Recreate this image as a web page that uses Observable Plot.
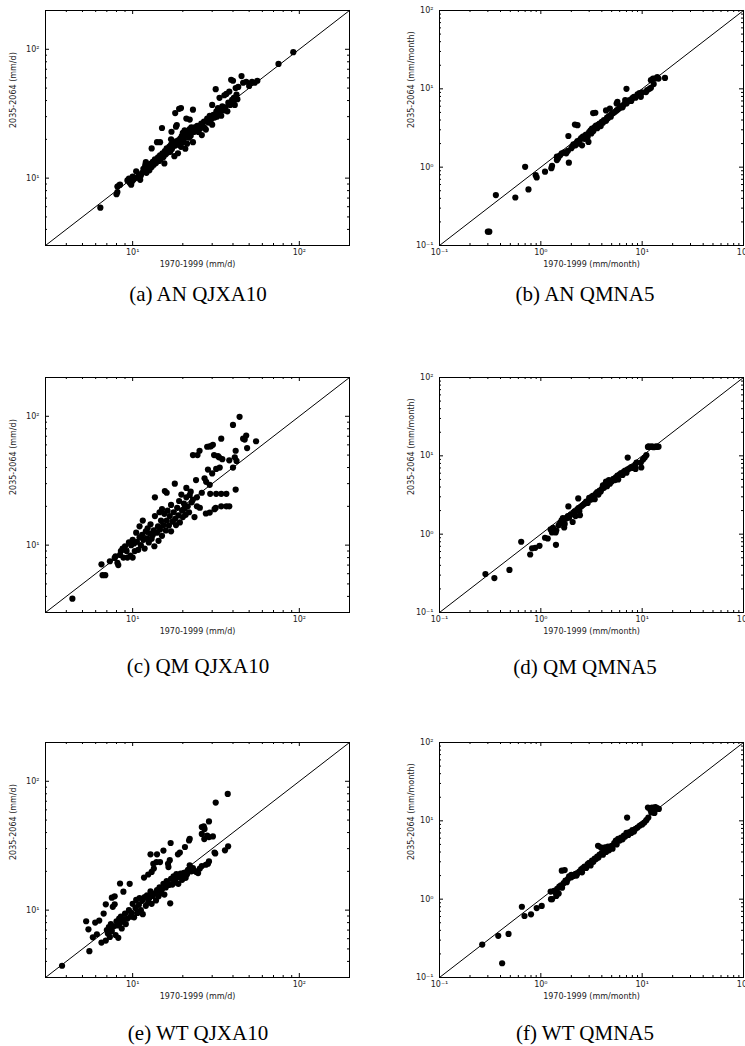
<!DOCTYPE html>
<html><head><meta charset="utf-8">
<script src="https://cdn.jsdelivr.net/npm/d3@7"></script>
<script src="https://cdn.jsdelivr.net/npm/@observablehq/plot@0.6"></script>
<style>
html,body{margin:0;padding:0;background:#fff;}
body{width:745px;height:1046px;position:relative;overflow:hidden;}
.panel{position:absolute;}
.cap{position:absolute;font-family:"Liberation Serif","Times New Roman",serif;font-size:21px;line-height:1;color:#000;text-align:center;width:300px;white-space:nowrap;}
</style></head><body>
<script>
// ---- tick values / labels ----
const dailyDomain = [3, 200];
const dailyMajor = [10, 100];
const dailyMinor = [4, 5, 6, 7, 8, 9, 20, 30, 40, 50, 60, 70, 80, 90];
const monthlyDomain = [0.1, 100];
const monthlyMajor = [0.1, 1, 10, 100];
const monthlyMinor = [0.2, 0.3, 0.4, 0.5, 0.6, 0.7, 0.8, 0.9, 2, 3, 4, 5, 6, 7, 8, 9, 20, 30, 40, 50, 60, 70, 80, 90];
const dailyXLabel = "1970-1999 (mm/d)";
const dailyYLabel = "2035-2064 (mm/d)";
const monthlyXLabel = "1970-1999 (mm/month)";
const monthlyYLabel = "2035-2064 (mm/month)";
const captions = ["(a) AN QJXA10", "(b) AN QMNA5", "(c) QM QJXA10", "(d) QM QMNA5", "(e) WT QJXA10", "(f) WT QMNA5"];

// ---- data: [1970-1999, 2035-2064] ----
const anQJXA10 = [[6.4,5.9],[8.0,7.5],[8.1,7.8],[8.1,8.6],[8.3,8.8],[8.4,8.9],[9.3,9.6],[9.5,9.9],[9.6,9.2],[9.8,8.9],[9.9,9.4],[10.0,10.3],[10.1,9.7],[10.3,10.0],[10.5,11.3],[10.7,10.1],[10.9,10.6],[11.1,9.7],[11.2,10.5],[11.4,11.0],[11.6,11.8],[11.8,11.3],[11.9,12.6],[12.0,13.3],[12.1,11.0],[12.3,11.9],[12.4,12.3],[12.6,11.5],[12.8,12.9],[13.0,12.2],[13.0,17.0],[13.2,13.4],[13.4,12.7],[13.6,14.0],[13.8,13.1],[14.0,19.0],[14.2,14.5],[14.4,13.6],[14.6,19.0],[14.6,15.0],[14.8,14.2],[15.0,24.5],[15.1,15.6],[15.3,14.6],[15.5,13.0],[15.6,16.2],[15.8,15.3],[16.0,17.0],[16.2,15.8],[16.4,16.5],[16.6,17.6],[16.8,16.0],[17.0,20.0],[17.0,18.2],[17.1,22.9],[17.2,16.8],[17.4,17.5],[17.6,18.8],[17.8,14.8],[18.0,32.0],[18.0,17.9],[18.2,19.3],[18.2,25.1],[18.4,25.8],[18.5,18.2],[18.7,15.6],[18.8,19.6],[19.0,34.5],[19.0,18.5],[19.3,20.3],[19.5,35.0],[19.5,17.5],[19.7,21.2],[20.0,22.5],[20.0,19.0],[20.3,20.0],[20.5,23.5],[20.7,16.9],[21.0,21.5],[21.0,29.0],[21.2,18.5],[21.5,22.3],[21.8,20.6],[22.0,28.5],[22.0,24.0],[22.3,21.3],[22.5,24.8],[22.6,23.2],[23.0,34.0],[23.0,19.0],[23.3,22.8],[23.6,24.8],[24.0,23.6],[24.4,25.5],[24.8,22.8],[25.0,25.0],[25.4,24.2],[25.8,26.5],[26.0,21.6],[26.3,25.6],[26.8,27.5],[27.0,24.6],[27.5,23.8],[28.0,29.0],[28.5,27.0],[29.0,30.5],[29.5,28.4],[30.0,37.0],[30.0,26.0],[30.5,31.0],[31.0,29.5],[31.5,49.0],[31.8,33.0],[32.0,30.0],[32.5,35.0],[33.0,32.0],[33.2,42.0],[33.5,34.5],[34.0,30.5],[34.5,36.0],[35.0,33.5],[35.5,44.0],[36.0,35.5],[36.5,45.0],[37.0,33.0],[37.5,38.5],[38.0,47.0],[38.5,37.0],[39.0,58.0],[39.5,40.5],[40.0,57.0],[40.0,39.0],[40.5,42.0],[41.0,37.0],[41.5,50.0],[42.0,44.5],[42.5,41.0],[43.0,51.0],[45.0,62.0],[46.0,55.0],[48.0,56.0],[50.0,52.0],[52.0,56.0],[54.0,55.0],[56.0,57.0],[75.0,77.0],[92.0,95.0]];

const anQMNA5 = [[0.30,0.15],[0.31,0.15],[0.36,0.44],[0.56,0.41],[0.70,1.01],[0.755,0.52],[0.89,0.79],[0.91,0.74],[1.10,0.875],[1.27,0.97],[1.29,1.04],[1.44,1.23],[1.44,1.36],[1.48,1.30],[1.55,1.42],[1.61,1.50],[1.70,1.55],[1.78,1.50],[1.85,1.62],[1.87,2.5],[1.89,1.14],[2.0,1.75],[2.05,1.85],[2.1,1.95],[2.17,3.5],[2.2,1.90],[2.25,2.05],[2.3,3.44],[2.3,2.15],[2.4,2.0],[2.45,2.25],[2.5,2.35],[2.55,1.9],[2.6,2.45],[2.7,2.3],[2.75,2.55],[2.8,2.6],[2.9,2.45],[2.95,2.1],[3.0,2.8],[3.1,2.95],[3.15,2.7],[3.2,3.1],[3.28,4.9],[3.3,2.9],[3.4,3.25],[3.45,4.95],[3.5,3.4],[3.6,3.15],[3.7,3.5],[3.8,3.6],[3.9,3.35],[4.0,3.8],[4.1,3.7],[4.2,4.0],[4.4,5.3],[4.4,3.9],[4.5,4.3],[4.6,4.2],[4.7,4.5],[4.8,5.6],[4.9,4.4],[5.0,4.8],[5.2,4.9],[5.4,5.1],[5.6,6.5],[5.6,5.3],[5.7,6.8],[5.8,5.5],[6.0,5.7],[6.2,6.0],[6.4,5.8],[6.6,6.3],[6.8,6.6],[6.8,7.2],[7.0,10.0],[7.0,6.5],[7.2,6.9],[7.5,7.2],[7.8,7.0],[8.0,7.6],[8.3,7.9],[8.6,7.7],[9.0,8.5],[9.4,8.8],[9.7,7.9],[10.0,9.0],[10.9,9.1],[11.2,9.6],[11.8,10.0],[12.2,10.3],[12.2,12.9],[12.8,13.5],[13.4,13.5],[13.0,11.5],[14.1,14.1],[14.5,13.5],[16.8,13.8]];

const qmQJXA10 = [[4.35,3.84],[6.5,7.1],[6.6,5.85],[6.85,5.85],[7.3,7.5],[7.8,7.95],[7.9,8.2],[8.1,7.3],[8.2,7.0],[8.4,8.4],[8.5,9.0],[8.7,9.4],[8.8,8.0],[9.0,9.8],[9.2,9.0],[9.3,8.0],[9.5,10.5],[9.7,8.3],[9.8,10.0],[10.0,8.0],[10.0,11.0],[10.2,10.3],[10.3,9.0],[10.5,12.5],[10.6,10.6],[10.8,9.2],[11.0,11.5],[11.0,14.0],[11.2,10.0],[11.4,12.0],[11.5,15.5],[11.6,11.0],[11.8,9.4],[12.0,12.8],[12.2,11.3],[12.3,13.5],[12.5,10.5],[12.7,12.3],[12.8,14.5],[13.0,11.2],[13.2,12.0],[13.4,13.0],[13.5,9.8],[13.6,16.8],[13.6,23.5],[14.0,12.5],[14.2,14.0],[14.3,10.8],[14.5,18.0],[14.6,13.2],[14.8,15.5],[15.0,11.8],[15.0,19.0],[15.3,14.3],[15.5,17.5],[15.6,26.3],[15.8,13.0],[16.0,25.5],[16.0,15.5],[16.2,18.5],[16.5,14.2],[16.7,16.8],[17.0,12.8],[17.0,20.5],[17.3,15.2],[17.6,18.0],[17.9,30.0],[18.0,16.0],[18.2,14.3],[18.5,19.5],[18.8,17.0],[19.0,22.0],[19.2,15.0],[19.6,24.7],[19.8,18.5],[20.0,16.5],[20.3,21.0],[20.5,19.2],[20.8,17.2],[21.0,27.8],[21.0,23.5],[21.4,20.0],[21.8,18.0],[22.0,24.5],[22.3,26.0],[22.6,21.5],[23.0,22.6],[23.0,50.0],[23.5,16.5],[24.0,32.0],[24.3,20.0],[24.3,23.5],[24.5,50.0],[25.2,54.0],[25.3,19.5],[26.0,25.5],[27.0,33.0],[27.5,17.6],[27.6,31.0],[28.0,58.0],[28.3,38.6],[29.0,58.5],[29.0,17.9],[29.0,29.4],[29.2,25.0],[29.5,58.5],[30.0,36.0],[30.3,60.0],[30.8,50.0],[31.0,19.0],[31.5,19.5],[31.7,39.0],[31.7,25.0],[32.5,49.0],[33.0,48.0],[33.3,40.0],[34.0,67.0],[34.0,20.0],[34.0,25.0],[34.5,46.5],[36.5,20.0],[36.5,25.0],[38.0,20.0],[38.0,45.5],[40.0,40.0],[40.0,85.7],[41.0,48.0],[41.5,54.0],[41.5,27.0],[42.0,45.0],[43.8,99.0],[46.0,67.0],[47.0,66.0],[48.0,70.8],[48.6,56.7],[55.0,64.0]];

const qmQMNA5 = [[0.284,0.31],[0.348,0.275],[0.49,0.35],[0.64,0.80],[0.785,0.55],[0.82,0.66],[0.88,0.67],[0.97,0.71],[1.10,0.90],[1.17,0.88],[1.25,1.15],[1.29,1.05],[1.30,1.11],[1.32,1.20],[1.36,1.08],[1.40,1.05],[1.41,0.73],[1.42,1.12],[1.50,1.30],[1.55,1.38],[1.60,1.50],[1.65,1.60],[1.70,1.22],[1.72,1.35],[1.78,1.58],[1.85,1.70],[1.87,2.26],[1.90,1.62],[1.98,1.78],[2.06,1.43],[2.1,1.85],[2.15,1.95],[2.2,1.70],[2.3,2.05],[2.34,2.86],[2.35,2.15],[2.4,1.98],[2.43,1.75],[2.5,2.25],[2.6,2.35],[2.7,2.45],[2.8,2.6],[2.9,2.5],[3.0,2.9],[3.1,2.75],[3.2,3.05],[3.3,3.1],[3.4,2.8],[3.5,3.3],[3.6,3.45],[3.7,3.2],[3.8,3.6],[3.9,3.5],[4.0,3.8],[4.1,4.2],[4.2,3.9],[4.3,4.3],[4.4,4.7],[4.5,4.1],[4.6,4.5],[4.7,4.9],[4.8,4.4],[5.0,4.7],[5.2,5.1],[5.4,4.9],[5.5,5.3],[5.7,5.6],[5.8,5.0],[6.0,5.8],[6.2,6.0],[6.4,5.7],[6.6,6.3],[6.8,6.5],[7.0,6.1],[7.2,6.7],[7.2,9.5],[7.5,6.9],[7.8,7.2],[8.2,7.0],[8.5,7.5],[8.6,6.8],[8.8,8.2],[9.7,8.2],[9.8,7.1],[10.2,9.0],[10.6,9.5],[11.0,10.2],[11.4,13.0],[11.6,13.2],[12.0,13.0],[12.5,13.2],[13.0,12.9],[13.7,13.2],[14.0,13.0],[14.5,13.1]];

const wtQJXA10 = [[3.77,3.7],[5.26,8.2],[5.43,7.1],[5.5,4.8],[5.77,6.15],[5.96,8.0],[6.1,6.5],[6.3,8.3],[6.5,5.6],[6.7,9.4],[6.9,5.8],[6.9,11.1],[7.0,7.0],[7.1,6.6],[7.2,7.4],[7.3,6.2],[7.4,7.8],[7.5,12.5],[7.5,6.9],[7.6,10.6],[7.7,7.5],[7.8,12.8],[7.8,11.1],[7.9,6.4],[8.0,8.2],[8.1,7.6],[8.2,6.1],[8.3,8.6],[8.4,16.1],[8.4,7.9],[8.5,8.9],[8.6,7.2],[8.8,13.9],[8.8,8.4],[9.0,9.4],[9.1,7.8],[9.3,8.6],[9.5,10.0],[9.6,16.0],[9.7,8.9],[9.9,9.5],[10.0,11.2],[10.2,8.8],[10.4,10.4],[10.5,12.0],[10.7,9.5],[10.9,11.0],[11.0,12.4],[11.2,10.0],[11.4,11.8],[11.5,9.3],[11.7,17.9],[11.8,12.6],[12.0,10.8],[12.2,13.0],[12.4,18.9],[12.4,11.5],[12.6,12.4],[12.8,27.1],[12.8,14.0],[13.0,19.8],[13.0,11.2],[13.2,12.9],[13.3,22.9],[13.4,21.0],[13.6,13.5],[13.8,11.9],[13.9,23.6],[14.0,27.1],[14.0,14.3],[14.3,12.8],[14.5,15.0],[14.6,23.6],[14.8,13.6],[15.0,14.5],[15.3,29.0],[15.3,16.0],[15.5,13.2],[15.8,15.0],[16.0,16.8],[16.3,22.9],[16.4,21.6],[16.5,15.7],[16.7,24.4],[16.8,11.3],[16.9,33.2],[17.0,17.5],[17.3,15.8],[17.6,18.3],[17.8,16.4],[18.0,17.0],[18.3,19.0],[18.7,27.1],[18.8,16.0],[19.0,18.0],[19.2,28.0],[19.4,19.2],[19.8,17.2],[20.0,18.5],[20.3,19.5],[20.6,30.9],[20.8,17.8],[21.2,19.0],[21.5,20.5],[21.8,34.7],[22.0,35.8],[22.0,22.3],[22.5,20.0],[23.0,21.2],[23.5,20.2],[24.1,19.8],[24.7,19.4],[25.3,21.0],[26.0,44.1],[26.0,39.0],[26.0,22.0],[26.7,44.7],[26.9,35.6],[27.0,42.7],[27.5,22.5],[28.0,37.8],[28.3,22.9],[28.7,48.8],[28.7,36.9],[28.7,23.9],[30.3,37.3],[31.0,28.0],[31.3,27.5],[31.5,68.4],[35.8,29.1],[37.2,79.8],[37.4,31.3]];

const wtQMNA5 = [[0.264,0.263],[0.38,0.34],[0.415,0.152],[0.48,0.36],[0.65,0.80],[0.69,0.61],[0.80,0.64],[0.91,0.77],[1.02,0.82],[1.26,1.0],[1.25,1.25],[1.29,1.00],[1.35,1.28],[1.38,1.23],[1.42,1.10],[1.45,1.35],[1.50,1.18],[1.52,1.45],[1.58,1.50],[1.61,2.31],[1.62,1.40],[1.68,1.60],[1.72,2.35],[1.75,1.72],[1.8,1.65],[1.85,1.80],[1.9,1.95],[2.0,1.90],[2.0,2.05],[2.1,1.98],[2.2,2.10],[2.25,2.00],[2.3,2.15],[2.4,2.25],[2.5,2.40],[2.55,2.20],[2.6,2.5],[2.7,2.6],[2.8,2.5],[2.9,2.8],[3.0,2.9],[3.1,2.7],[3.2,3.1],[3.3,3.0],[3.4,3.3],[3.5,3.25],[3.6,3.5],[3.67,4.8],[3.7,3.4],[3.8,3.7],[3.9,4.6],[4.0,3.9],[4.1,3.7],[4.2,4.1],[4.3,4.6],[4.4,4.0],[4.5,4.3],[4.6,4.7],[4.7,4.2],[4.8,4.6],[5.0,4.8],[5.1,4.4],[5.3,5.2],[5.5,5.6],[5.6,5.0],[5.8,5.9],[6.0,5.6],[6.2,6.1],[6.4,5.8],[6.6,6.5],[6.8,6.3],[7.0,7.0],[7.1,11.0],[7.3,6.6],[7.5,7.2],[7.8,7.0],[8.0,7.6],[8.3,7.3],[8.6,7.9],[9.0,8.2],[9.5,8.7],[10.0,9.0],[10.5,9.5],[11.0,10.2],[11.4,14.8],[11.5,11.0],[12.0,14.0],[12.3,12.8],[12.5,14.8],[13.0,14.6],[13.2,12.6],[13.5,15.0],[13.7,14.6],[14.0,14.5],[14.6,14.2]];

const daily = {domain: dailyDomain, major: dailyMajor, minor: dailyMinor, xLabel: dailyXLabel, yLabel: dailyYLabel};
const monthly = {domain: monthlyDomain, major: monthlyMajor, minor: monthlyMinor, xLabel: monthlyXLabel, yLabel: monthlyYLabel};

const panels = [
  {data: anQJXA10, cfg: daily,   col: 0, frameTop: 10,  cap: captions[0], capY: 294},
  {data: anQMNA5,  cfg: monthly, col: 1, frameTop: 10,  cap: captions[1], capY: 294},
  {data: qmQJXA10, cfg: daily,   col: 0, frameTop: 377, cap: captions[2], capY: 666},
  {data: qmQMNA5,  cfg: monthly, col: 1, frameTop: 377, cap: captions[3], capY: 667},
  {data: wtQJXA10, cfg: daily,   col: 0, frameTop: 742, cap: captions[4], capY: 1033},
  {data: wtQMNA5,  cfg: monthly, col: 1, frameTop: 742, cap: captions[5], capY: 1033}
];

const supMap = {"-1": "\u207B\u00B9", "0": "\u2070", "1": "\u00B9", "2": "\u00B2"};
const fmt = d => "10" + supMap[String(Math.round(Math.log10(d)))];

for (const p of panels) {
  const cfg = p.cfg;
  const W = p.col === 0 ? 372 : 373;
  const left = p.col === 0 ? 0 : 372;
  const ml = p.col === 0 ? 45 : 67;
  const mr = p.col === 0 ? 23 : 2;
  const mt = 10, mb = 35, PH = 235;
  const PW = W - ml - mr;
  const pts = p.data.map(([x, y]) => ({x, y}));
  const id = d => d;
  const chart = Plot.plot({
    width: W, height: mt + PH + mb,
    marginTop: mt, marginBottom: mb, marginLeft: ml, marginRight: mr,
    x: {type: "log", domain: cfg.domain},
    y: {type: "log", domain: cfg.domain},
    style: {fontFamily: "'DejaVu Sans', sans-serif", fontSize: "8px", background: "transparent", overflow: "visible", color: "#000"},
    marks: [
      Plot.line(cfg.domain, {x: id, y: id, stroke: "#000", strokeWidth: 1}),
      Plot.dot(pts, {x: "x", y: "y", r: 3.1, fill: "#000"}),
      Plot.tickX(cfg.major, {x: id, insetTop: PH - 4, stroke: "#000"}),
      Plot.tickX(cfg.major, {x: id, insetBottom: PH - 4, stroke: "#000"}),
      Plot.tickX(cfg.minor, {x: id, insetTop: PH - 2, stroke: "#000"}),
      Plot.tickX(cfg.minor, {x: id, insetBottom: PH - 2, stroke: "#000"}),
      Plot.tickY(cfg.major, {y: id, insetRight: PW - 4, stroke: "#000"}),
      Plot.tickY(cfg.major, {y: id, insetLeft: PW - 4, stroke: "#000"}),
      Plot.tickY(cfg.minor, {y: id, insetRight: PW - 2, stroke: "#000"}),
      Plot.tickY(cfg.minor, {y: id, insetLeft: PW - 2, stroke: "#000"}),
      Plot.frame({stroke: "#000", strokeWidth: 1}),
      Plot.axisX({ticks: cfg.major, tickSize: 0, tickPadding: 4, tickFormat: fmt, fontSize: 8, label: null, fill: "#222"}),
      Plot.axisY({ticks: cfg.major, tickSize: 0, tickPadding: 6, tickFormat: fmt, fontSize: 8, label: null, fill: "#222"}),
      Plot.text([cfg.xLabel], {frameAnchor: "bottom", dy: 21, fontSize: 8, fill: "#222", text: id}),
      Plot.text([cfg.yLabel], {frameAnchor: "left", rotate: -90, dx: p.col === 0 ? -32 : -28, fontSize: 8, fill: "#222", text: id})
    ]
  });
  const div = document.createElement("div");
  div.className = "panel";
  div.style.left = left + "px";
  div.style.top = (p.frameTop - mt) + "px";
  div.appendChild(chart);
  document.body.appendChild(div);

  const cap = document.createElement("div");
  cap.className = "cap";
  cap.textContent = p.cap;
  const cx = p.col === 0 ? 198 : 585;
  cap.style.left = (cx - 150) + "px";
  cap.style.top = (p.capY - 10.5) + "px";
  document.body.appendChild(cap);
}
</script>
</body></html>
